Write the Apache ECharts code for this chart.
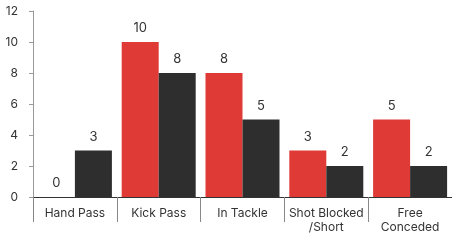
<!DOCTYPE html>
<html>
<head>
<meta charset="utf-8">
<script src="https://cdn.jsdelivr.net/npm/echarts@6/dist/echarts.min.js"></script>
<style>
html, body { margin: 0; padding: 0; background: #fff; }
#chart { width: 452px; height: 244px; }
</style>
</head>
<body>
<div id="chart"></div>
<script>
var categories = ['Hand Pass', 'Kick Pass', 'In Tackle', 'Shot Blocked\n/Short', 'Free\nConceded'];
var redValues = [0, 10, 8, 3, 5];
var darkValues = [3, 8, 5, 2, 2];
var yTicks = [0, 2, 4, 6, 8, 10, 12];

var chart = echarts.init(document.getElementById('chart'));

var labelStyle = {
    show: true,
    position: 'top',
    distance: 7,
    color: '#333',
    fontFamily: 'Inter',
    fontSize: 13
};

chart.setOption({
    animation: false,
    grid: { left: 33, top: 11, bottom: 47, width: 421 },
    xAxis: {
        type: 'category',
        data: categories,
        axisLine: { lineStyle: { color: '#333', width: 1 } },
        axisTick: { show: true, interval: 0, length: 25, lineStyle: { color: '#888' } },
        axisLabel: {
            interval: 0,
            color: '#333',
            fontFamily: 'Inter',
            fontSize: 12,
            lineHeight: 14,
            margin: 9
        }
    },
    yAxis: {
        type: 'value',
        min: yTicks[0],
        max: yTicks[yTicks.length - 1],
        interval: 2,
        splitLine: { show: false },
        axisLine: { show: true, lineStyle: { color: '#999' } },
        axisTick: { show: true, length: 4, lineStyle: { color: '#999' } },
        axisLabel: {
            color: '#333',
            fontFamily: 'Inter',
            fontSize: 12,
            margin: 15
        }
    },
    series: [{
        type: 'bar',
        data: redValues,
        barWidth: 37,
        barGap: '0%',
        itemStyle: { color: '#e03a37' },
        label: labelStyle
    }, {
        type: 'bar',
        data: darkValues,
        barWidth: 37,
        itemStyle: { color: '#2e2e2e' },
        label: labelStyle
    }]
});
</script>
</body>
</html>
